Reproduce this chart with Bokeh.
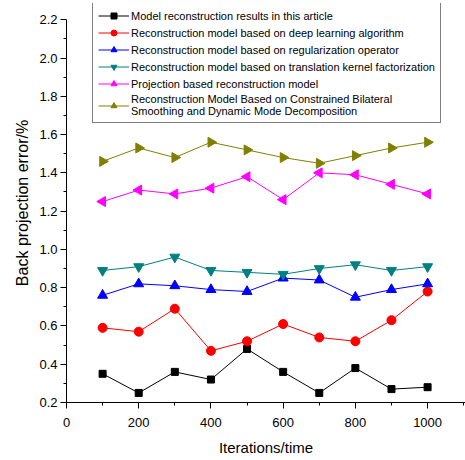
import math
from bokeh.plotting import figure
from bokeh.models import Range1d, FixedTicker, PrintfTickFormatter, Legend, LegendItem
from bokeh.embed import file_html
from bokeh.resources import INLINE

iterations = [100, 200, 300, 400, 500, 600, 700, 800, 900, 1000]
model_this_article = [0.35, 0.25, 0.36, 0.32, 0.48, 0.36, 0.25, 0.38, 0.27, 0.28]
deep_learning = [0.59, 0.57, 0.69, 0.47, 0.52, 0.61, 0.54, 0.52, 0.63, 0.78]
regularization = [0.76, 0.82, 0.81, 0.79, 0.78, 0.85, 0.84, 0.75, 0.79, 0.82]
translation_kernel = [0.89, 0.91, 0.96, 0.89, 0.88, 0.87, 0.90, 0.92, 0.89, 0.91]
projection_based = [1.25, 1.31, 1.29, 1.32, 1.38, 1.26, 1.40, 1.39, 1.34, 1.29]
bilateral_dmd = [1.46, 1.53, 1.48, 1.56, 1.52, 1.48, 1.45, 1.49, 1.53, 1.56]

series_labels = [
    "Model reconstruction results in this article",
    "Reconstruction model based on deep learning algorithm",
    "Reconstruction model based on regularization operator",
    "Reconstruction model based on translation kernel factorization",
    "Projection based reconstruction model",
    "Reconstruction Model Based on Constrained Bilateral\nSmoothing and Dynamic Mode Decomposition",
]

x_major_ticks = [0, 200, 400, 600, 800, 1000]
x_minor_ticks = [100, 300, 500, 700, 900, 1100]
y_major_ticks = [0.2, 0.4, 0.6, 0.8, 1.0, 1.2, 1.4, 1.6, 1.8, 2.0, 2.2]
y_minor_ticks = [0.3, 0.5, 0.7, 0.9, 1.1, 1.3, 1.5, 1.7, 1.9, 2.1]
y_axis_bounds = (0.2, 2.2)

FONT = "Liberation Sans"

p = figure(width=465, height=460,
           x_range=Range1d(0, 1105), y_range=Range1d(0.2, 2.285),
           output_backend="svg", toolbar_location=None,
           min_border_left=66, min_border_right=0,
           min_border_top=3, min_border_bottom=58)
p.outline_line_color = None
p.xgrid.visible = False
p.ygrid.visible = False
p.background_fill_color = "white"
p.border_fill_color = "white"

p.xaxis.ticker = FixedTicker(ticks=x_major_ticks, minor_ticks=x_minor_ticks)
p.yaxis.ticker = FixedTicker(ticks=y_major_ticks, minor_ticks=y_minor_ticks)
p.yaxis.formatter = PrintfTickFormatter(format="%.1f")
p.yaxis.bounds = y_axis_bounds

for ax in (p.xaxis[0], p.yaxis[0]):
    ax.axis_line_color = "black"
    ax.axis_line_width = 1
    ax.major_tick_line_color = "black"
    ax.minor_tick_line_color = "black"
    ax.major_tick_in = 0
    ax.minor_tick_in = 0
    ax.major_tick_out = 6
    ax.minor_tick_out = 3
    ax.major_label_text_font = FONT
    ax.major_label_text_font_size = "13px"
    ax.major_label_text_color = "black"
    ax.axis_label_text_font = FONT
    ax.axis_label_text_font_style = "normal"
    ax.axis_label_text_color = "black"

p.xaxis.axis_label = "Iterations/time"
p.xaxis.axis_label_text_font_size = "15px"
p.xaxis.major_label_standoff = 9
p.xaxis.axis_label_standoff = 9
p.yaxis.axis_label = "Back projection error/%"
p.yaxis.axis_label_text_font_size = "16px"
p.yaxis.major_label_standoff = 3
p.yaxis.axis_label_standoff = 5

styles = [
    (model_this_article, "black", "square", 0.0, 7),
    (deep_learning, "red", "circle", 0.0, 9),
    (regularization, "blue", "triangle", 0.0, 10),
    (translation_kernel, "#008080", "inverted_triangle", 0.0, 10),
    (projection_based, "#FF00FF", "triangle", math.pi / 2, 10),
    (bilateral_dmd, "#808000", "triangle", -math.pi / 2, 10),
]

items = []
for (vals, color, marker, ang, size), label in zip(styles, series_labels):
    ln = p.line(iterations, vals, line_color=color, line_width=1)
    sc = p.scatter(iterations, vals, marker=marker, angle=ang, size=size,
                   fill_color=color, line_color=color)
    items.append(LegendItem(label=label, renderers=[ln, sc]))

legend = Legend(items=items, location=(26, 279))
legend.label_text_font = FONT
legend.label_text_font_size = "11px"
legend.label_text_color = "black"
legend.label_text_line_height = 1.7
legend.glyph_width = 31
legend.glyph_height = 15
legend.label_height = 15
legend.label_standoff = 2
legend.spacing = 2
legend.padding = 5
legend.margin = 0
legend.border_line_color = "black"
legend.border_line_width = 1
legend.background_fill_color = "white"
legend.background_fill_alpha = 1
p.add_layout(legend, "center")

open("out.html", "w").write(file_html(p, INLINE))
